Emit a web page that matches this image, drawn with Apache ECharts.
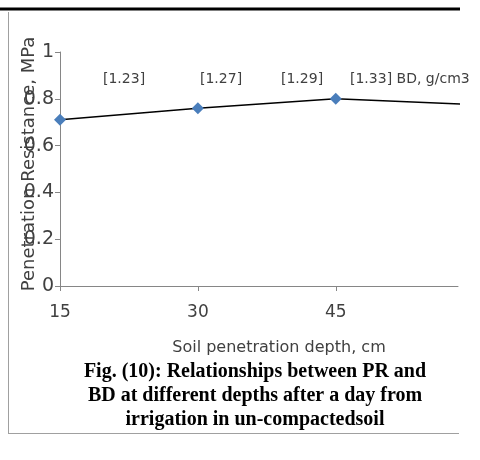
<!DOCTYPE html>
<html>
<head>
	<meta charset="utf-8">
	<title>PR vs depth</title>
	<script src="https://cdn.jsdelivr.net/npm/echarts@6/dist/echarts.min.js"></script>
</head>
<body style="margin:0;background:#fff;">
	<div id="chart" style="width:480px;height:460px;"></div>
	<script type="text/javascript">
		// depth (cm) and penetration resistance (MPa)
		var depths = [15, 30, 45, 60];
		var prValues = [0.71, 0.76, 0.80, 0.775];
		var yTicks = [0, 0.2, 0.4, 0.6, 0.8, 1];
		var xTicks = [15, 30, 45];
		// bulk density notes above the curve
		var bdLabels = ['[1.23]', '[1.27]', '[1.29]', '[1.33] BD, g/cm3'];
		var bdLabelX = [103, 200, 281, 350];
		var captionLines = [
			'Fig. (10): Relationships between PR and',
			'BD at different depths after a day from',
			'irrigation in un-compactedsoil'
		];

		var points = [];
		for (var i = 0; i < depths.length; i++) {
			points.push([depths[i], prValues[i]]);
		}

		var graphics = [
			{ type: 'line', shape: { x1: 0, y1: 9, x2: 460, y2: 9 }, style: { stroke: '#000', lineWidth: 3 } },
			{ type: 'line', shape: { x1: 8.5, y1: 12, x2: 8.5, y2: 433 }, style: { stroke: '#a0a0a0', lineWidth: 1 } },
			{ type: 'line', shape: { x1: 8, y1: 433.5, x2: 459, y2: 433.5 }, style: { stroke: '#a0a0a0', lineWidth: 1 } }
		];
		bdLabels.forEach(function (t, k) {
			graphics.push({
				type: 'text', left: bdLabelX[k], top: 72,
				style: { text: t, fill: '#404040', font: '14px "DejaVu Sans"' }
			});
		});
		captionLines.forEach(function (t, k) {
			graphics.push({
				type: 'text', x: 255, y: 362 + k * 24,
				style: { text: t, fill: '#000', font: 'bold 20px "Liberation Serif"', align: 'center', verticalAlign: 'top' }
			});
		});

		var myChart = echarts.init(document.getElementById('chart'));
		var option = {
			animation: false,
			grid: { left: 60, right: 22, top: 52, bottom: 174, outerBoundsMode: 'none', containLabel: false },
			xAxis: {
				type: 'value',
				min: 15,
				max: 58.3,
				interval: 15,
				name: 'Soil penetration depth, cm',
				nameLocation: 'middle',
				nameGap: 54,
				nameMoveOverlap: false,
				nameTextStyle: { color: '#404040', fontSize: 16, fontFamily: 'DejaVu Sans', padding: [0, 0, 0, 40] },
				axisLine: { lineStyle: { color: '#868686' } },
				axisTick: { show: true, length: 5, inside: false, customValues: xTicks, lineStyle: { color: '#868686' } },
				axisLabel: { customValues: xTicks, color: '#404040', fontSize: 17, fontFamily: 'DejaVu Sans', margin: 18 },
				splitLine: { show: false }
			},
			yAxis: {
				type: 'value',
				min: 0,
				max: 1,
				interval: 0.2,
				name: 'Penetration Resistance, MPa',
				nameLocation: 'middle',
				nameRotate: 90,
				nameGap: 22,
				nameMoveOverlap: false,
				nameTextStyle: { color: '#404040', fontSize: 18, fontFamily: 'DejaVu Sans', padding: [0, 0, 0, 10] },
				axisLine: { show: true, lineStyle: { color: '#868686' } },
				axisTick: { show: true, length: 5, lineStyle: { color: '#868686' } },
				axisLabel: {
					color: '#404040', fontSize: 19, fontFamily: 'DejaVu Sans', margin: 6,
					formatter: function (v) { return yTicks.indexOf(+v.toFixed(1)) >= 0 ? String(+v.toFixed(1)) : ''; }
				},
				splitLine: { show: false }
			},
			graphic: graphics,
			series: [{
				type: 'line',
				data: points,
				clip: true,
				symbol: 'diamond',
				symbolSize: 12,
				itemStyle: { color: '#4a7ebb' },
				lineStyle: { color: '#000', width: 1.5 }
			}]
		};
		myChart.setOption(option);
	</script>
</body>
</html>
